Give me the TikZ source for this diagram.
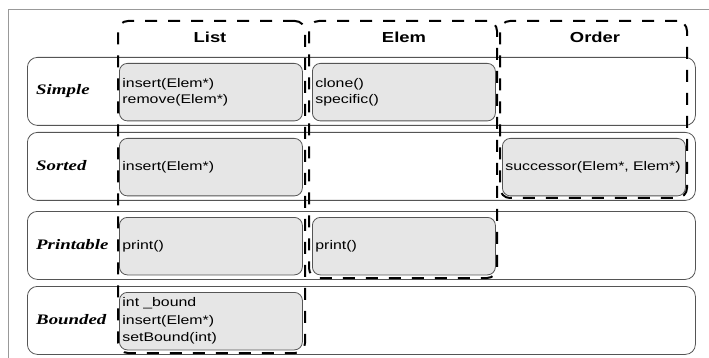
\documentclass[tikz,border=0pt]{standalone}
\usepackage{fontspec}
\setmainfont{Liberation Serif}
\newfontfamily\methodfont[FakeStretch=1.27]{Liberation Sans}
\newfontfamily\layerfont[FakeStretch=1.3]{Liberation Serif}
\usetikzlibrary{positioning}
\definecolor{boxgray}{HTML}{E6E6E6}
\definecolor{edgegray}{HTML}{555555}
\tikzset{
    frame/.style={draw=gray!80, line width=0.9pt},
    layer/.style={draw=edgegray, fill=white, rounded corners=10pt, line width=0.8pt,
        minimum width=668pt, minimum height=68pt, anchor=north west, inner sep=0pt},
    method/.style={draw=edgegray, fill=boxgray, rounded corners=8pt, line width=0.8pt,
        minimum width=183pt, minimum height=57.5pt, text width=177pt, align=left,
        inner xsep=3pt, anchor=north west, font=\methodfont\fontsize{12.5}{15.3}\selectfont},
    column/.style={draw=black, line width=2pt, dash pattern=on 12pt off 11pt,
        rounded corners=10pt, anchor=north west, minimum width=187pt, inner sep=0pt},
    colhead/.style={font=\methodfont\bfseries\fontsize{14.5}{17}\selectfont},
    layername/.style={font=\layerfont\bfseries\itshape\fontsize{14.5}{17}\selectfont,
        anchor=west, inner sep=1pt}
}

\begin{document}
\begin{tikzpicture}[x=1pt, y=-1pt]
    \useasboundingbox (0,0) rectangle (709,358);
    \draw [frame] (8,358) -- (8,9) -- (709,9);

    % layers
    \node [layer] (rowSimple) at (27,57) {};
    \node [layer] (rowSorted) at (27,132) {};
    \node [layer] (rowPrintable) at (27,211) {};
    \node [layer] (rowBounded) at (27,286) {};

    \node [layername] (lblSimple) at (35,91) {Simple};
    \node [layername] (lblSorted) at (35,166) {Sorted};
    \node [layername] (lblPrintable) at (35,245) {Printable};
    \node [layername] (lblBounded) at (35,320) {Bounded};

    % methods per class
    \node [method] (listSimple) at (119,63) {insert(Elem*)\\remove(Elem*)};
    \node [method] (elemSimple) at (312,63) {clone()\\specific()};
    \node [method] (listSorted) at (119,138) {insert(Elem*)};
    \node [method] (orderSorted) at (502,138) {successor(Elem*, Elem*)};
    \node [method] (listPrintable) at (119,217) {print()};
    \node [method] (elemPrintable) at (312,217) {print()};
    \node [method, font=\methodfont\fontsize{12.5}{17.5}\selectfont] (listBounded) at (119,292)
        {int \_bound\\insert(Elem*)\\setBound(int)};

    % classes
    \node [column, minimum height=332pt] (colList) at (117,20) {};
    \node [column, minimum width=188pt, minimum height=257pt] (colElem) at (308,20) {};
    \node [column, minimum height=177pt] (colOrder) at (499,20) {};

    \node [colhead] (hdList) at (210,37) {List};
    \node [colhead] (hdElem) at (404,37) {Elem};
    \node [colhead] (hdOrder) at (595,37) {Order};
\end{tikzpicture}
\end{document}
